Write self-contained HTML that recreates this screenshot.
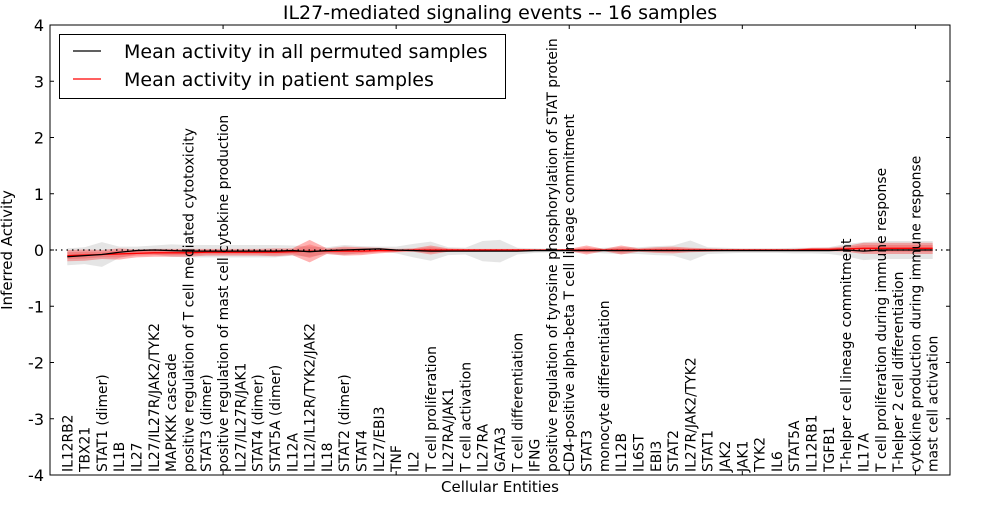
<!DOCTYPE html>
<html><head><meta charset="utf-8"><style>
body{margin:0;background:#fff;}
svg{font-family:"DejaVu Sans","Liberation Sans",sans-serif;}
</style></head><body>
<svg id="chart" width="1000" height="500" xmlns="http://www.w3.org/2000/svg"></svg>
<script>
const categories=["IL12RB2","TBX21","STAT1 (dimer)","IL1B","IL27","IL27/IL27R/JAK2/TYK2","MAPKKK cascade","positive regulation of T cell mediated cytotoxicity","STAT3 (dimer)","positive regulation of mast cell cytokine production","IL27/IL27R/JAK1","STAT4 (dimer)","STAT5A (dimer)","IL12A","IL12/IL12R/TYK2/JAK2","IL18","STAT2 (dimer)","STAT4","IL27/EBI3","TNF","IL2","T cell proliferation","IL27RA/JAK1","T cell activation","IL27RA","GATA3","T cell differentiation","IFNG","positive regulation of tyrosine phosphorylation of STAT protein","CD4-positive alpha-beta T cell lineage commitment","STAT3","monocyte differentiation","IL12B","IL6ST","EBI3","STAT2","IL27R/JAK2/TYK2","STAT1","JAK2","JAK1","TYK2","IL6","STAT5A","IL12RB1","TGFB1","T-helper cell lineage commitment","IL17A","T cell proliferation during immune response","T-helper 2 cell differentiation","cytokine production during immune response","mast cell activation"];
const meanValues=[-0.12,-0.1,-0.08,-0.04,-0.01,0,-0.01,-0.02,-0.02,-0.02,-0.02,-0.02,-0.02,-0.01,-0.03,-0.01,0,0.01,0.02,0,-0.01,-0.02,-0.02,-0.02,-0.02,-0.02,-0.02,-0.01,-0.01,-0.01,-0.01,-0.01,-0.01,-0.01,-0.01,-0.01,-0.01,-0.01,-0.01,-0.01,-0.01,-0.01,-0.01,-0.01,-0.01,0,-0.02,0,0,0,0];
const patientValues=[-0.1,-0.09,-0.08,-0.07,-0.06,-0.05,-0.05,-0.05,-0.04,-0.04,-0.04,-0.04,-0.04,-0.03,-0.02,-0.02,-0.02,-0.02,-0.01,-0.01,0,0,0,0,0,0,0,0,0,0,0,0,0,0,0,0,0,0,0,0,0,0,0,0.01,0.01,0.02,0.03,0.03,0.03,0.03,0.03];
const meanSpread=[0.15,0.15,0.22,0.1,0.07,0.08,0.11,0.11,0.11,0.11,0.11,0.11,0.11,0.09,0.09,0.06,0.09,0.06,0.04,0.06,0.12,0.17,0.07,0.06,0.18,0.2,0.06,0.04,0.03,0.03,0.03,0.05,0.06,0.06,0.08,0.09,0.18,0.06,0.05,0.04,0.04,0.04,0.05,0.05,0.06,0.11,0.16,0.16,0.16,0.16,0.16];
const patientSpread=[0.1,0.1,0.08,0.1,0.07,0.07,0.07,0.07,0.06,0.06,0.06,0.06,0.07,0.06,0.2,0.05,0.08,0.07,0.05,0.03,0.03,0.08,0.03,0.02,0.02,0.02,0.02,0.01,0.01,0.02,0.08,0.02,0.08,0.03,0.05,0.06,0.04,0.03,0.02,0.02,0.02,0.02,0.02,0.03,0.03,0.05,0.1,0.1,0.1,0.1,0.1];
const yTicks=[4,3,2,1,0,-1,-2,-3,-4];
const xTicks=[0,10,20,30,40,50];

const NS="http://www.w3.org/2000/svg";
const svg=document.getElementById('chart');
const L=50,R=950,T=25,B=475;
const X=v=>L+(v/52)*(R-L);
const Y=v=>T+(4-v)/8*(B-T);
function mk(tag,attrs,parent){const e=document.createElementNS(NS,tag);for(const k in attrs)e.setAttribute(k,attrs[k]);(parent||svg).appendChild(e);return e;}

function band(center,spread,fill,op,scale,name){
  let top=[],bot=[];
  center.forEach((c,i)=>{top.push(X(i+1)+','+Y(c+spread[i]*scale));bot.unshift(X(i+1)+','+Y(c-spread[i]*scale));});
  const p=mk('polygon',{points:top.concat(bot).join(' '),fill:fill,'fill-opacity':op,stroke:'none'});
  
  
}
band(meanValues,meanSpread,'#999',0.25,1,'permuted-band');
band(patientValues,patientSpread,'#f00',0.3,1,'patient-band');
band(patientValues,patientSpread,'#f00',0.2,0.6,'patient-band-inner');

const zero=mk('line',{x1:L,x2:R,y1:Y(0),y2:Y(0),stroke:'#000','stroke-width':1.2,'stroke-dasharray':'1.5,4'});



function line(vals,color,name){
  const pts=vals.map((v,i)=>X(i+1)+','+Y(v)).join(' ');
  const p=mk('polyline',{points:pts,fill:'none',stroke:color,'stroke-width':1.3});
  
  
}
line(patientValues,'#f00','patient-line');
line(meanValues,'#000','permuted-line');

const frame=mk('rect',{x:L,y:T,width:R-L,height:B-T,fill:'none',stroke:'#000','stroke-width':1});



yTicks.forEach(v=>{
  mk('line',{x1:L,x2:L+4,y1:Y(v),y2:Y(v),stroke:'#000'});
  mk('line',{x1:R,x2:R-4,y1:Y(v),y2:Y(v),stroke:'#000'});
  const t=mk('text',{x:L-6,y:Y(v)+6,'text-anchor':'end','font-size':16});
  t.textContent=String(v);
  
  
});
xTicks.forEach(v=>{
  mk('line',{x1:X(v),x2:X(v),y1:B,y2:B-4,stroke:'#000'});
  mk('line',{x1:X(v),x2:X(v),y1:T,y2:T+4,stroke:'#000'});
});
categories.forEach((c,i)=>{
  const x=X(i+1)+5,y=472;
  const t=mk('text',{x:x,y:y,transform:`rotate(-90 ${x} ${y})`,'font-size':13.9});
  t.textContent=c;
  
  
});

const title=mk('text',{x:500,y:19,'text-anchor':'middle','font-size':19});
title.textContent='IL27-mediated signaling events -- 16 samples';


const xt=mk('text',{x:500,y:492,'text-anchor':'middle','font-size':15});
xt.textContent='Cellular Entities';


const yt=mk('text',{x:12,y:250,'text-anchor':'middle','font-size':15,transform:'rotate(-90 12 250)'});
yt.textContent='Inferred Activity';



const lg=mk('g',{});


mk('rect',{x:59.5,y:34.5,width:446,height:64,fill:'#fff',stroke:'#000'},lg);
mk('line',{x1:73,x2:101,y1:51,y2:51,stroke:'#000','stroke-width':1.3},lg);
mk('line',{x1:73,x2:101,y1:79,y2:79,stroke:'#f00','stroke-width':1.3},lg);
const l1=mk('text',{x:124,y:58,'font-size':19},lg);
l1.textContent='Mean activity in all permuted samples';


const l2=mk('text',{x:124,y:86,'font-size':19},lg);
l2.textContent='Mean activity in patient samples';


</script>
</body></html>
